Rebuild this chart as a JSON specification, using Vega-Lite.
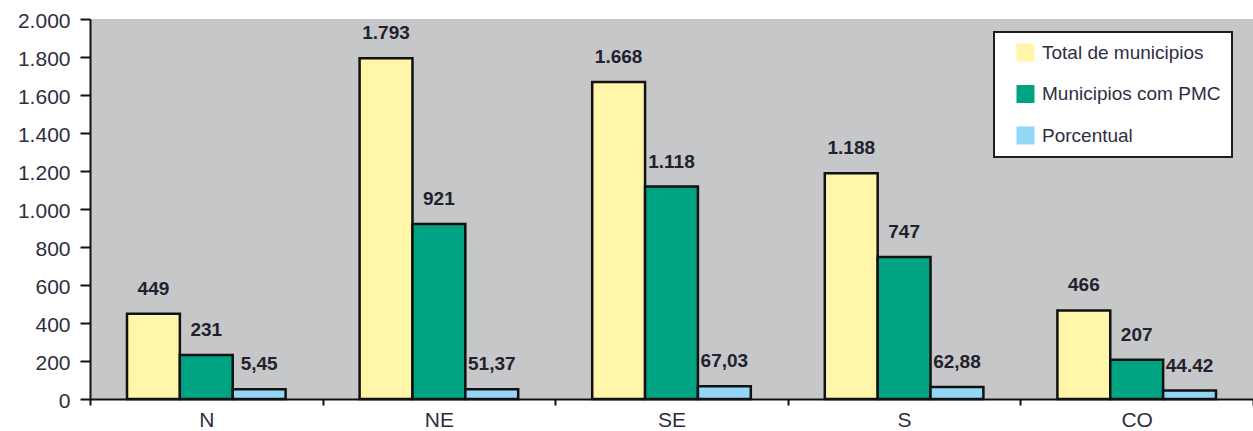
{
  "$schema": "https://vega.github.io/schema/vega-lite/v6.json",
  "width": 1163,
  "height": 380,
  "autosize": {"type": "none"},
  "padding": {"left": 90, "top": 19, "right": 0, "bottom": 32},
  "background": "white",
  "config": {
    "view": {"fill": "#c6c7c9", "stroke": null},
    "font": "Liberation Sans"
  },
  "data": {
    "values": [
      {"regiao": "N", "serie": "Total de municipios", "valor": 449, "rotulo": "449"},
      {"regiao": "N", "serie": "Municipios com PMC", "valor": 231, "rotulo": "231"},
      {"regiao": "N", "serie": "Porcentual", "valor": 51.45, "rotulo": "5,45"},
      {"regiao": "NE", "serie": "Total de municipios", "valor": 1793, "rotulo": "1.793"},
      {"regiao": "NE", "serie": "Municipios com PMC", "valor": 921, "rotulo": "921"},
      {"regiao": "NE", "serie": "Porcentual", "valor": 51.37, "rotulo": "51,37"},
      {"regiao": "SE", "serie": "Total de municipios", "valor": 1668, "rotulo": "1.668"},
      {"regiao": "SE", "serie": "Municipios com PMC", "valor": 1118, "rotulo": "1.118"},
      {"regiao": "SE", "serie": "Porcentual", "valor": 67.03, "rotulo": "67,03"},
      {"regiao": "S", "serie": "Total de municipios", "valor": 1188, "rotulo": "1.188"},
      {"regiao": "S", "serie": "Municipios com PMC", "valor": 747, "rotulo": "747"},
      {"regiao": "S", "serie": "Porcentual", "valor": 62.88, "rotulo": "62,88"},
      {"regiao": "CO", "serie": "Total de municipios", "valor": 466, "rotulo": "466"},
      {"regiao": "CO", "serie": "Municipios com PMC", "valor": 207, "rotulo": "207"},
      {"regiao": "CO", "serie": "Porcentual", "valor": 44.42, "rotulo": "44.42"}
    ]
  },
  "encoding": {
    "x": {
      "field": "regiao",
      "type": "nominal",
      "sort": ["N", "NE", "SE", "S", "CO"],
      "scale": {"paddingInner": 0, "paddingOuter": 0},
      "axis": {
        "title": null,
        "labelAngle": 0,
        "tickBand": "extent",
        "domainColor": "#111111",
        "domainWidth": 2,
        "tickColor": "#111111",
        "tickWidth": 2,
        "tickSize": 6,
        "labelPadding": 4,
        "labelFontSize": 21,
        "labelColor": "#2e2e42",
        "grid": false
      }
    },
    "xOffset": {
      "field": "serie",
      "type": "nominal",
      "sort": ["Total de municipios", "Municipios com PMC", "Porcentual"],
      "scale": {"paddingInner": 0, "paddingOuter": 0.7}
    },
    "y": {
      "field": "valor",
      "type": "quantitative",
      "scale": {"domain": [0, 2000], "nice": false},
      "axis": {
        "title": null,
        "values": [0, 200, 400, 600, 800, 1000, 1200, 1400, 1600, 1800, 2000],
        "labelExpr": "replace(format(datum.value, ','), ',', '.')",
        "domainColor": "#111111",
        "domainWidth": 2,
        "tickColor": "#111111",
        "tickWidth": 2,
        "tickSize": 10,
        "labelPadding": 10,
        "labelOffset": 2,
        "labelFontSize": 21,
        "labelColor": "#2e2e42",
        "grid": false
      }
    }
  },
  "layer": [
    {
      "mark": {"type": "bar", "stroke": "#111111", "strokeWidth": 2.5},
      "encoding": {
        "color": {
          "field": "serie",
          "type": "nominal",
          "scale": {
            "domain": ["Total de municipios", "Municipios com PMC", "Porcentual"],
            "range": ["#fff6a9", "#00a382", "#94d6f6"]
          },
          "legend": {
            "orient": "none",
            "legendX": 904,
            "legendY": 13,
            "title": null,
            "fillColor": "white",
            "strokeColor": "#1e1e1e",
            "padding": 11,
            "symbolOffset": 11,
            "symbolType": "square",
            "symbolSize": 324,
            "symbolStrokeWidth": 0,
            "symbolStrokeColor": "transparent",
            "labelFontSize": 19,
            "labelColor": "#2e2e42",
            "labelOffset": 7,
            "labelLimit": 300,
            "rowPadding": 21.5,
            "encode": {
              "symbols": {
                "update": {
                  "fill": {"signal": "datum.value === 'Total de municipios' ? '#fff200' : datum.value === 'Municipios com PMC' ? '#00a383' : '#b0cce8'"},
                  "stroke": {"value": "transparent"},
                  "strokeWidth": {"value": 0},
                  "opacity": {"value": 1}
                }
              },
              "legend": {
                "update": {"strokeWidth": {"value": 2}}
              }
            }
          }
        }
      }
    },
    {
      "mark": {
        "type": "text",
        "dy": -25,
        "baseline": "middle",
        "align": "center",
        "fontWeight": "bold",
        "fontSize": 19,
        "color": "#22222e"
      },
      "encoding": {
        "text": {"field": "rotulo"}
      }
    }
  ]
}
